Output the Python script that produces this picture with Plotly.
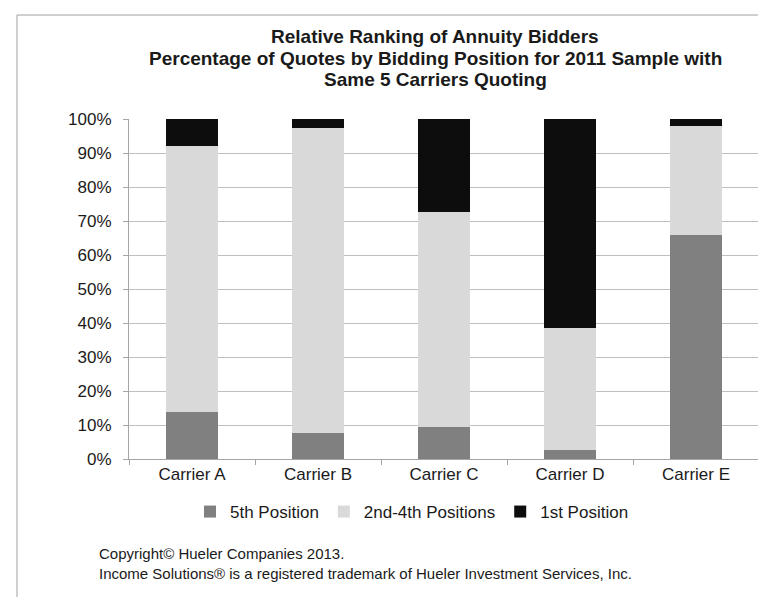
import plotly.graph_objects as go

carriers = ["Carrier A", "Carrier B", "Carrier C", "Carrier D", "Carrier E"]
fifth_position = [0.138, 0.076, 0.094, 0.027, 0.660]
mid_positions = [0.783, 0.898, 0.632, 0.358, 0.320]
first_position = [0.079, 0.026, 0.274, 0.615, 0.020]

series_names = ["5th Position", "2nd-4th Positions", "1st Position"]
series_colors = ["#808080", "#d9d9d9", "#0d0d0d"]

title_lines = ["Relative Ranking of Annuity Bidders",
               "Percentage of Quotes by Bidding Position for 2011 Sample with",
               "Same 5 Carriers Quoting"]
footer_lines = ["Copyright© Hueler Companies 2013.",
                "Income Solutions® is a registered trademark of Hueler Investment Services, Inc."]

FONT = "Liberation Sans, Arial, sans-serif"
L, R, T, B = 121, 751, 111, 451  # plot area in pixels
PW, PH = R - L, B - T


def px(x):
    return (x - L) / PW


def py(y):
    return (B - y) / PH


fig = go.Figure()
for name, vals, col in zip(series_names, [fifth_position, mid_positions, first_position], series_colors):
    fig.add_trace(go.Bar(x=carriers, y=vals, name=name,
                         marker=dict(color=col, line=dict(width=0))))

fig.update_layout(
    width=766, height=597,
    barmode="stack", bargap=0.595,
    paper_bgcolor="white", plot_bgcolor="white",
    margin=dict(l=L, r=766 - R, t=T, b=597 - B),
    font=dict(family=FONT, size=17, color="#1a1a1a"),
    showlegend=True,
    legend=dict(orientation="h", x=px(404), xanchor="center", y=py(504), yanchor="middle",
                font=dict(size=17), traceorder="normal", itemwidth=30),
    xaxis=dict(showline=True, linecolor="#a6a6a6", linewidth=1,
               ticks="outside", ticklen=5, tickcolor="#a6a6a6", tickson="boundaries",
               showgrid=False),
    yaxis=dict(range=[0, 1], dtick=0.1, tickformat=".0%",
               showline=True, linecolor="#a6a6a6", linewidth=1,
               ticks="outside", ticklen=5, tickcolor="#a6a6a6", ticklabelstandoff=8,
               showgrid=True, gridcolor="#bfbfbf", gridwidth=1, zeroline=False),
)

# title, one annotation per line for tight spacing
for txt, yc in zip(title_lines, [28, 51, 72]):
    fig.add_annotation(text="<b>" + txt + "</b>", xref="paper", yref="paper",
                       x=px(427), y=py(yc), xanchor="center", yanchor="middle",
                       showarrow=False, font=dict(family=FONT, size=19, color="#1a1a1a"))

# footer
fig.add_annotation(text="<br>".join(footer_lines), xref="paper", yref="paper",
                   x=px(89), y=py(555), xanchor="left", yanchor="middle", align="left",
                   showarrow=False, font=dict(family=FONT, size=15, color="#1a1a1a"))

# outer frame
fig.add_shape(type="rect", xref="paper", yref="paper",
              x0=px(9), x1=px(775), y0=py(610), y1=py(7),
              line=dict(color="#a0a0a0", width=1), fillcolor="rgba(0,0,0,0)", layer="below")

fig.write_html("out.html")
